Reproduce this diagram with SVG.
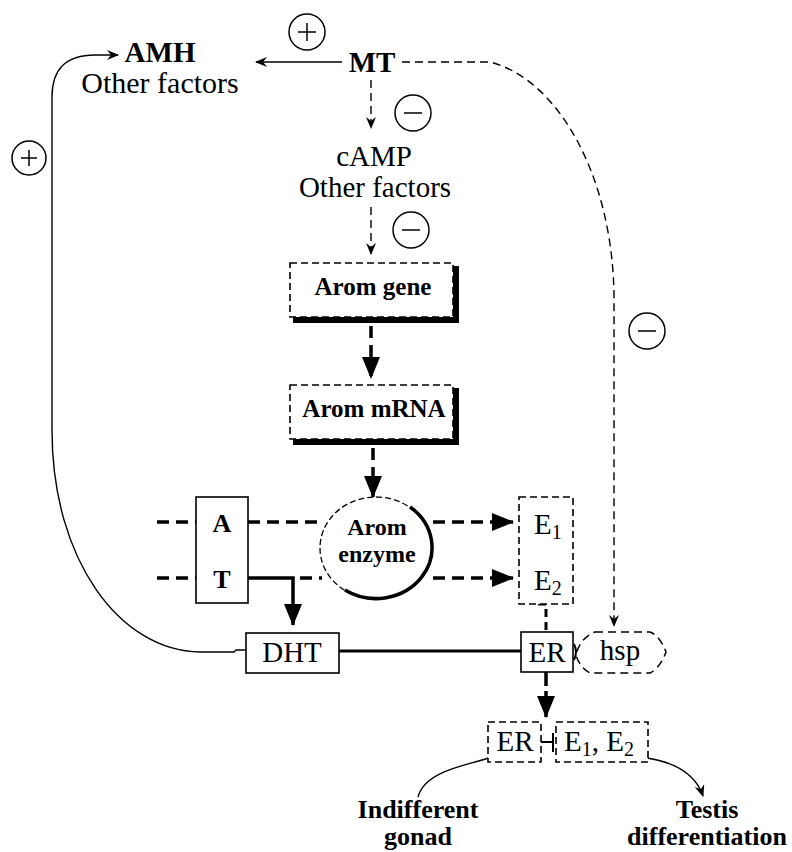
<svg xmlns="http://www.w3.org/2000/svg" width="792" height="852" viewBox="0 0 792 852">
<style>
.t{font-family:"Liberation Serif","Times New Roman",serif;fill:#000}
.r{font-size:30px}
.b{font-weight:bold}
.thin{stroke:#000;stroke-width:1.4;fill:none}
.dsh{stroke-dasharray:8 5}
.tk{stroke:#000;stroke-width:3.5;fill:none}
.tkd{stroke-dasharray:12 7}
.box{fill:#fff;stroke:#000;stroke-width:1.6}
.dbox{fill:#fff;stroke:#000;stroke-width:1.6;stroke-dasharray:7 4}
.sign{fill:none;stroke:#000;stroke-width:1.5}
</style>
<defs>
<marker id="barb" markerUnits="userSpaceOnUse" viewBox="0 0 12 10" refX="11" refY="5" markerWidth="12" markerHeight="10" orient="auto">
<path d="M0,0 L12,5 L0,10 L4,5 Z" fill="#000"/>
</marker>
<marker id="tri" markerUnits="userSpaceOnUse" viewBox="0 0 22 18" refX="21" refY="9" markerWidth="22" markerHeight="18" orient="auto">
<path d="M0,0 L22,9 L0,18 Z" fill="#000"/>
</marker>
</defs>

<g id="connectors">
<path class="thin" d="M342,62 L256,62" marker-end="url(#barb)"/>
<path class="thin dsh" d="M371,80 L371,128" marker-end="url(#barb)"/>
<path class="thin dsh" d="M371,207 L371,254" marker-end="url(#barb)"/>
<path class="thin dsh" d="M402,62 L490,62 C560,80 614,180 614,300 L614,626" marker-end="url(#barb)"/>
<path class="thin" d="M246,650 L236,650 L234,652 L200,652 C120,651 52,560 52,430 L52,97 C52,70 65,55 95,55 L118,55" marker-end="url(#barb)"/>
<path class="tk tkd" d="M371,326 L371,378" marker-end="url(#tri)"/>
<path class="tk tkd" d="M373,448 L373,497" marker-end="url(#tri)"/>
<path class="tk tkd" d="M157,522 L196,522"/>
<path class="tk tkd" d="M248,522 L322,522"/>
<path class="tk tkd" d="M433,522 L513,522" marker-end="url(#tri)"/>
<path class="tk tkd" d="M157,578 L196,578"/>
<path class="tk" d="M248,578 L293,578 L293,625" marker-end="url(#tri)"/>
<path class="tk tkd" d="M300,578 L322,578"/>
<path class="tk tkd" d="M433,578 L513,578" marker-end="url(#tri)"/>
<path class="tk" d="M339,651 L521,651" style="stroke-width:3"/>
<path class="tk" d="M538,604 L546,604 L546,632" style="stroke-width:3;stroke-dasharray:8 5"/>
<path class="tk" d="M546,672 L546,717" style="stroke-width:3.5;stroke-dasharray:14 5" marker-end="url(#tri)"/>
<path class="thin" d="M541,742 L553,742 M553,733 L553,752" style="stroke-width:2"/>
<path class="thin" d="M488,758 C470,765 425,770 418,797"/>
<path class="thin" d="M647,758 C672,762 695,772 703,796" marker-end="url(#barb)"/>
</g>

<g id="signs">
<circle class="sign" cx="307" cy="32" r="18"/><path class="sign" d="M298,32 H316 M307,23 V41"/>
<circle class="sign" cx="29" cy="158" r="17"/><path class="sign" d="M21,158 H37 M29,150 V166"/>
<circle class="sign" cx="413" cy="113" r="18"/><path class="sign" d="M404,113 H422"/>
<circle class="sign" cx="411" cy="230" r="18"/><path class="sign" d="M402,230 H420"/>
<circle class="sign" cx="647" cy="331" r="18"/><path class="sign" d="M638,331 H656"/>
</g>

<g id="amh">
<text class="t b" x="160" y="62" text-anchor="middle" font-size="29">AMH</text>
<text class="t r" x="160" y="93" text-anchor="middle">Other factors</text>
</g>

<g id="mt">
<text class="t b" x="372" y="72" text-anchor="middle" font-size="29">MT</text>
</g>

<g id="camp">
<text class="t" x="374" y="166" text-anchor="middle" font-size="29">cAMP</text>
<text class="t" x="375" y="197" text-anchor="middle" font-size="29">Other factors</text>
</g>

<g id="arom-gene">
<rect class="dbox" x="290" y="263" width="163" height="54"/>
<path d="M456,266 V320 H293" fill="none" stroke="#000" stroke-width="6"/>
<text class="t b" x="373" y="295" text-anchor="middle" font-size="25">Arom gene</text>
</g>

<g id="arom-mrna">
<rect class="dbox" x="290" y="385" width="163" height="54"/>
<path d="M456,388 V442 H293" fill="none" stroke="#000" stroke-width="6"/>
<text class="t b" x="374" y="417" text-anchor="middle" font-size="25">Arom mRNA</text>
</g>

<g id="arom-enzyme">
<ellipse cx="376" cy="548" rx="56" ry="51" fill="#fff" stroke="#000" stroke-width="1.3" stroke-dasharray="6 3"/>
<path d="M410,507 A56,51 0 0 1 345,590" fill="none" stroke="#000" stroke-width="3.5"/>
<text class="t b" x="377" y="535" text-anchor="middle" font-size="24">Arom</text>
<text class="t b" x="377" y="562" text-anchor="middle" font-size="24">enzyme</text>
</g>

<g id="at">
<rect class="box" x="196" y="497" width="52" height="106"/>
<text class="t b" x="222" y="532" text-anchor="middle" font-size="26">A</text>
<text class="t b" x="222" y="588" text-anchor="middle" font-size="26">T</text>
</g>

<g id="e12">
<rect class="dbox" x="519" y="497" width="54" height="107"/>
<text class="t" x="534" y="534" font-size="29">E<tspan font-size="20" dy="5">1</tspan></text>
<text class="t" x="534" y="590" font-size="29">E<tspan font-size="20" dy="5">2</tspan></text>
</g>

<g id="dht">
<rect class="box" x="246" y="633" width="93" height="40"/>
<text class="t" x="292" y="662" text-anchor="middle" font-size="29">DHT</text>
</g>

<g id="er">
<rect class="box" x="521" y="632" width="52" height="40"/>
<text class="t" x="547" y="662" text-anchor="middle" font-size="29">ER</text>
<path d="M574,644 Q578,652 574,660" fill="none" stroke="#000" stroke-width="2"/>
</g>

<g id="hsp">
<path d="M595,632 L650,632 Q660,636 666,652 Q660,668 650,673 L590,673 Q580,668 576,655 Q580,638 595,632 Z" fill="none" stroke="#000" stroke-width="1.5" stroke-dasharray="8 5"/>
<text class="t" x="620" y="660" text-anchor="middle" font-size="29">hsp</text>
</g>

<g id="er-complex">
<rect class="dbox" x="488" y="722" width="53" height="40"/>
<text class="t" x="515" y="751" text-anchor="middle" font-size="29">ER</text>
<rect class="dbox" x="556" y="722" width="92" height="40"/>
<text class="t" x="564" y="751" font-size="29">E<tspan font-size="20" dy="5">1</tspan><tspan dy="-5">, E</tspan><tspan font-size="20" dy="5">2</tspan></text>
</g>

<g id="indifferent">
<text class="t b" x="418" y="818" text-anchor="middle" font-size="26">Indifferent</text>
<text class="t b" x="418" y="845" text-anchor="middle" font-size="26">gonad</text>
</g>

<g id="testis">
<text class="t b" x="707" y="818" text-anchor="middle" font-size="26">Testis</text>
<text class="t b" x="707" y="845" text-anchor="middle" font-size="26">differentiation</text>
</g>
</svg>
